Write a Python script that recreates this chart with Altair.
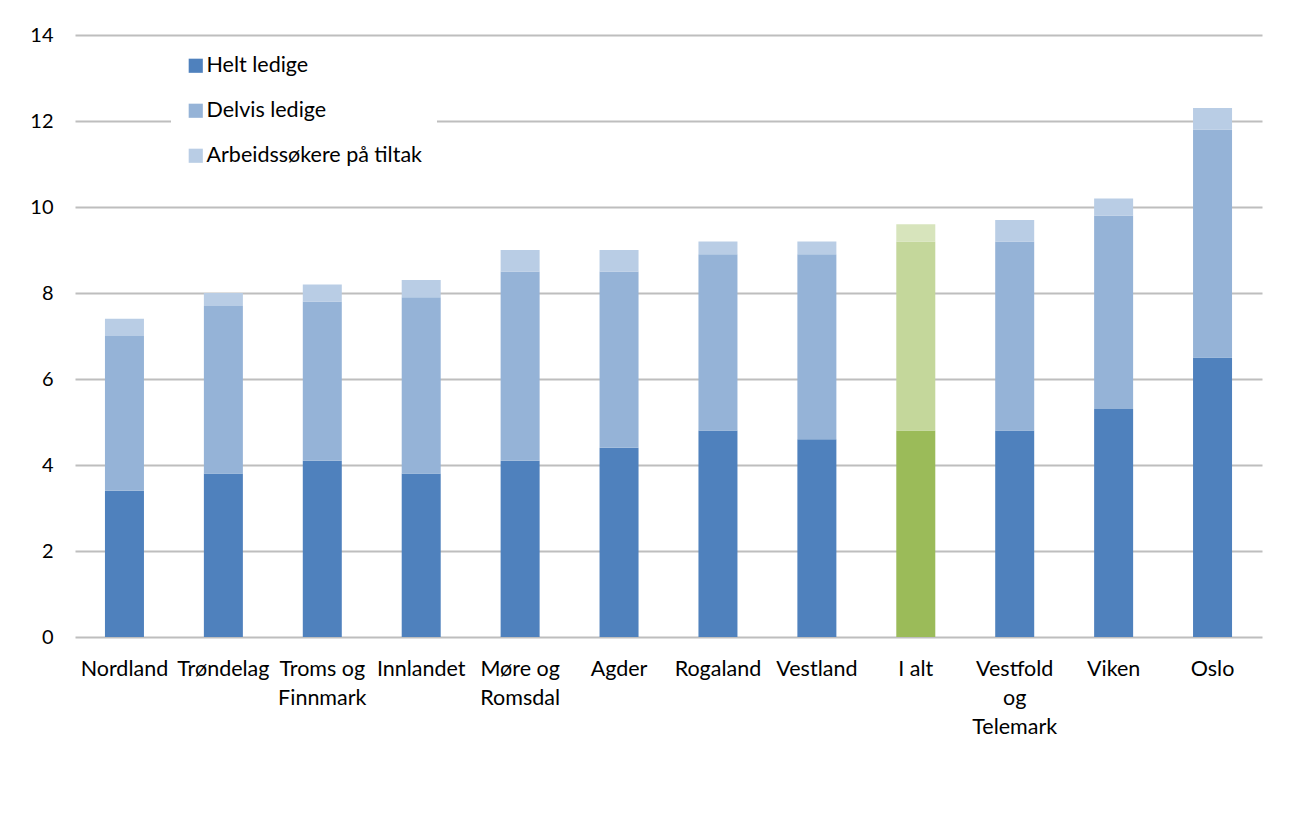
import altair as alt
import pandas as pd

regions = ["Nordland", "Trøndelag", "Troms og\nFinnmark", "Innlandet", "Møre og\nRomsdal",
           "Agder", "Rogaland", "Vestland", "I alt", "Vestfold\nog\nTelemark", "Viken", "Oslo"]
helt = [3.4, 3.8, 4.1, 3.8, 4.1, 4.4, 4.8, 4.6, 4.8, 4.8, 5.3, 6.5]
delvis = [3.6, 3.9, 3.7, 4.1, 4.4, 4.1, 4.1, 4.3, 4.4, 4.4, 4.5, 5.3]
tiltak = [0.4, 0.3, 0.4, 0.4, 0.5, 0.5, 0.3, 0.3, 0.4, 0.5, 0.4, 0.5]

series = ["Helt ledige", "Delvis ledige", "Arbeidssøkere på tiltak"]
total_keys = ["I alt: Helt ledige", "I alt: Delvis ledige", "I alt: Arbeidssøkere på tiltak"]
colors = ["#4F81BD", "#95B3D7", "#B9CDE5", "#9BBB59", "#C4D79B", "#D7E4BC"]

rows = []
for i, r in enumerate(regions):
    for k, (s, vals) in enumerate(zip(series, [helt, delvis, tiltak])):
        key = total_keys[k] if r == "I alt" else s
        rows.append({"region": r, "series": s, "key": key, "order": k, "value": vals[i]})
df = pd.DataFrame(rows)

font = "Lato"

chart = alt.Chart(df).mark_bar(size=39).encode(
    x=alt.X("region:N", sort=regions, title=None,
            axis=alt.Axis(labelAngle=0, labelExpr="split(datum.label, '\\n')",
                          labelFontSize=21.5, labelFont=font, labelColor="#000000",
                          labelPadding=21, ticks=False, domain=False, labelLineHeight=29,
                          labelBaseline="top", labelLimit=0)),
    y=alt.Y("value:Q", stack="zero", title=None,
            scale=alt.Scale(domain=[0, 14]),
            axis=alt.Axis(values=[0, 2, 4, 6, 8, 10, 12, 14], labelFontSize=20, labelFont=font,
                          labelColor="#000000", labelPadding=22, ticks=False, domain=False,
                          gridColor="#BEBEBE", gridWidth=1.8)),
    color=alt.Color("key:N",
                    scale=alt.Scale(domain=series + total_keys, range=colors),
                    legend=alt.Legend(values=series, title=None, orient="none",
                                      legendX=96, legendY=6, labelFontSize=21.5, labelFont=font,
                                      labelColor="#000000", symbolType="square", symbolSize=200,
                                      symbolStrokeWidth=0, labelOffset=0, rowPadding=22,
                                      fillColor="white", padding=14, labelLimit=0)),
    order=alt.Order("order:Q"),
).properties(
    width=1187, height=602,
    autosize=alt.AutoSizeParams(type="none"),
    padding={"left": 67, "top": 27, "right": 22, "bottom": 180},
).configure_view(stroke=None).configure_scale(bandPaddingInner=0.6, bandPaddingOuter=0.3)

chart.save("out.html", embed_options={"renderer": "svg", "actions": False})
